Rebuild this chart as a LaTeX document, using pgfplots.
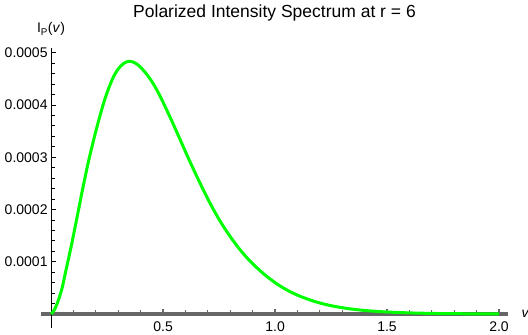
\documentclass[border=0pt]{standalone}
\usepackage{fontspec}
\setmainfont{Liberation Sans}
\usepackage{pgfplots}
\usepackage{pgfplotstable}
\pgfplotsset{compat=1.18}

\definecolor{curvegreen}{RGB}{0,255,0}
\definecolor{axisgray}{RGB}{102,102,102}

% polarized intensity
\pgfplotstableread{
x y
0 0
0.015 0.000008
0.033 0.000027
0.05 0.000051
0.0625 0.000076
0.08 0.000110
0.092 0.000134
0.107 0.000166
0.122 0.000198
0.137 0.000231
0.152 0.000262
0.167 0.000292
0.182 0.000319
0.20 0.000350
0.22 0.000382
0.24 0.000411
0.26 0.000435
0.28 0.000455
0.30 0.000469
0.32 0.000478
0.34 0.000483
0.36 0.000483
0.38 0.000479
0.40 0.000472
0.43 0.000457
0.46 0.000438
0.49 0.000414
0.52 0.000387
0.55 0.000359
0.58 0.000330
0.61 0.000301
0.64 0.000273
0.67 0.000246
0.70 0.000220
0.73 0.000196
0.76 0.000174
0.80 0.000148
0.84 0.000125
0.88 0.000105
0.92 0.000088
0.96 0.000073
1.00 0.000060
1.04 0.000049
1.08 0.000040
1.12 0.0000325
1.18 0.0000235
1.24 0.0000168
1.30 0.0000120
1.36 0.0000085
1.42 0.0000060
1.50 0.0000038
1.60 0.0000021
1.70 0.0000011
1.80 0.0000006
1.90 0.0000003
2.00 0.0000001
}\spectrum

\begin{document}
\begin{tikzpicture}
\useasboundingbox (-41pt,-7pt) rectangle (487pt,328pt);
\begin{axis}[
    scale only axis,
    width=467pt, height=280pt,
    xmin=-0.045, xmax=2.04,
    ymin=-0.0000268, ymax=0.000509,
    axis lines=middle,
    axis line style={-},
    x axis line style={axisgray, line width=3.3pt},
    y axis line style={black, line width=0.8pt},
    tick align=inside,
    major tick length=5pt,
    minor tick length=3.5pt,
    xtick={0.5,1,1.5,2},
    xticklabels={0.5,1.0,1.5,2.0},
    minor xtick={0.1,0.2,0.3,0.4,0.6,0.7,0.8,0.9,1.1,1.2,1.3,1.4,1.6,1.7,1.8,1.9},
    ytick={0.0001,0.0002,0.0003,0.0004,0.0005},
    yticklabels={0.0001,0.0002,0.0003,0.0004,0.0005},
    minor ytick={0.00002,0.00004,0.00006,0.00008,0.00012,0.00014,0.00016,0.00018,
                 0.00022,0.00024,0.00026,0.00028,0.00032,0.00034,0.00036,0.00038,
                 0.00042,0.00044,0.00046,0.00048},
    scaled y ticks=false,
    xtick style={axisgray, line width=1.2pt},
    ytick style={black, line width=0.8pt},
    tick label style={font=\fontsize{14}{16}\selectfont},
    xticklabel style={anchor=north, yshift=-4pt},
    title={Polarized Intensity Spectrum at r = 6},
    title style={at={(0.5,1)}, anchor=base, yshift=24.5pt, font=\fontsize{17.5}{20}\selectfont},
    ylabel={I\textsubscript{P}(\textit{v})},
    ylabel style={at={(axis description cs:0.0214,1)}, anchor=base, yshift=15pt, rotate=0,
                  font=\fontsize{14}{16}\selectfont},
    xlabel={\textit{v}},
    xlabel style={at={(axis description cs:1,0.05)}, anchor=west, xshift=10pt,
                  font=\fontsize{14}{16}\selectfont},
]
\addplot[curvegreen, line width=3pt, smooth] table[x=x, y=y] {\spectrum};
\end{axis}
\end{tikzpicture}
\end{document}
